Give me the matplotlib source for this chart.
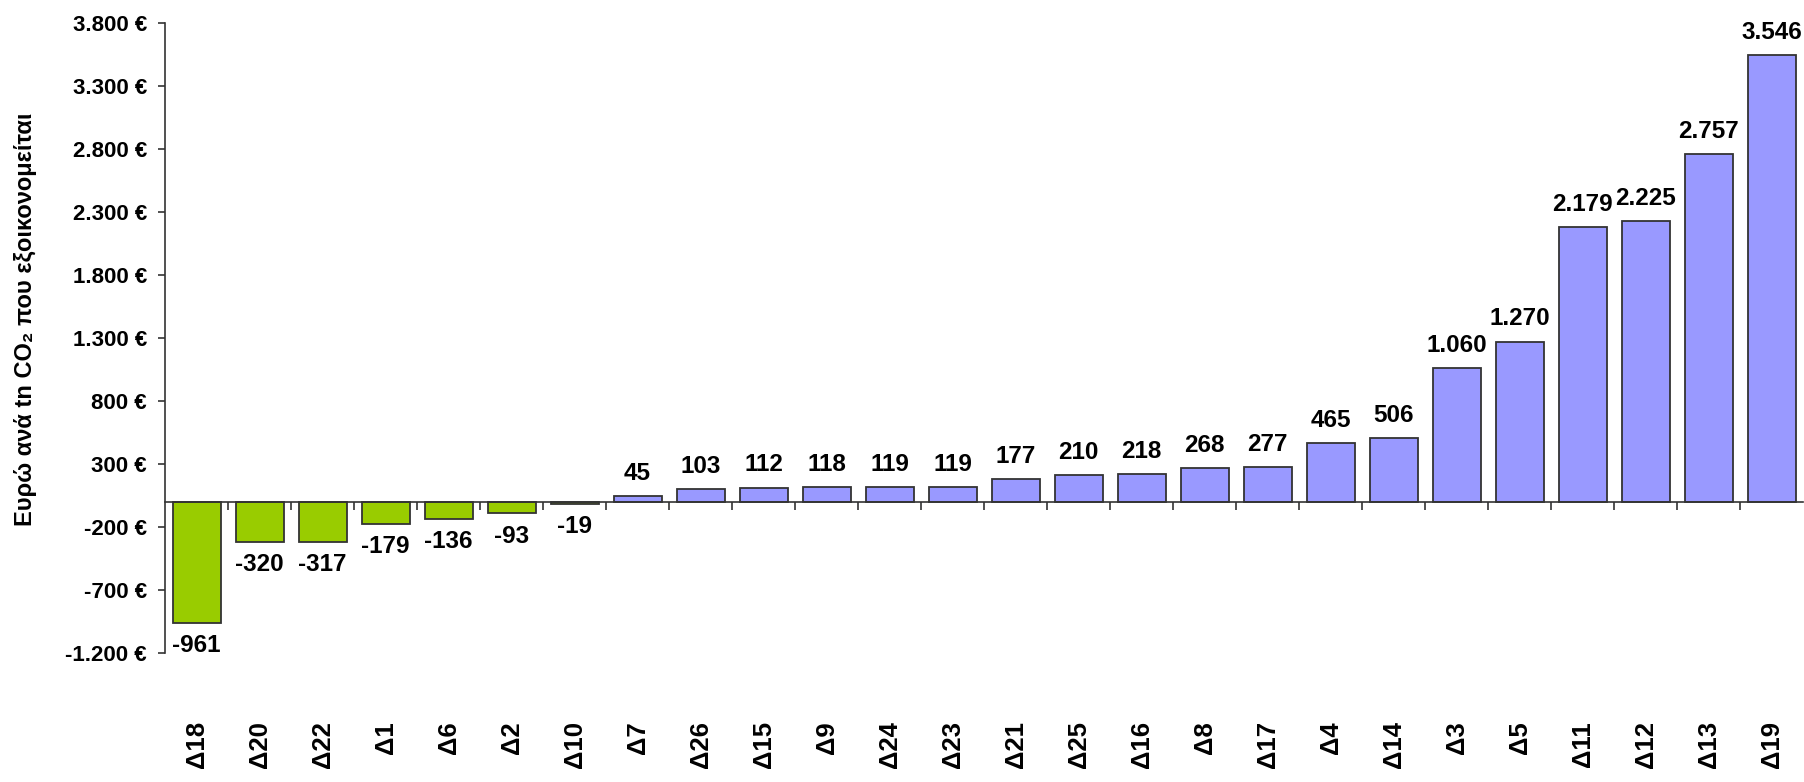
import numpy as np
import matplotlib
matplotlib.use("Agg")
import matplotlib.pyplot as plt
from matplotlib.ticker import FixedLocator, FuncFormatter

plt.rcParams['font.family'] = ['Liberation Sans', 'DejaVu Sans']
plt.rcParams['font.weight'] = 'bold'

categories = ['Δ18', 'Δ20', 'Δ22', 'Δ1', 'Δ6', 'Δ2', 'Δ10', 'Δ7', 'Δ26', 'Δ15',
              'Δ9', 'Δ24', 'Δ23', 'Δ21', 'Δ25', 'Δ16', 'Δ8', 'Δ17', 'Δ4', 'Δ14',
              'Δ3', 'Δ5', 'Δ11', 'Δ12', 'Δ13', 'Δ19']
values = [-961, -320, -317, -179, -136, -93, -19, 45, 103, 112,
          118, 119, 119, 177, 210, 218, 268, 277, 465, 506,
          1060, 1270, 2179, 2225, 2757, 3546]
y_ticks = list(range(-1200, 3801, 500))
y_label = 'Ευρώ ανά tn CO₂ που εξοικονομείται'


def dot_thousands(v):
    return f"{int(v):,}".replace(',', '.')


fig = plt.figure(figsize=(18.04, 7.82), dpi=100)
ax = fig.add_axes([0.0915, 0.165, 0.908, 0.806])

x = np.arange(len(categories))
colors = ['#99CC00' if v < 0 else '#9999FF' for v in values]
ax.bar(x, values, width=0.76, color=colors, edgecolor='#333333', linewidth=1.3, zorder=2)

for xi, v in zip(x, values):
    ax.annotate(dot_thousands(v), (xi, v), xytext=(0, 8 if v >= 0 else -8),
                textcoords='offset points', ha='center',
                va='bottom' if v >= 0 else 'top', fontsize=17.5, fontweight='bold')

ax.set_xlim(-0.5, len(categories) - 0.5)
ax.set_ylim(-1200, 3800)
ax.set_yticks(y_ticks)
ax.yaxis.set_major_formatter(FuncFormatter(lambda v, p: dot_thousands(v) + ' €'))
ax.tick_params(axis='y', direction='out', length=5, width=1.2, color='#333333',
               pad=8, labelsize=16)

ax.spines['top'].set_visible(False)
ax.spines['right'].set_visible(False)
ax.spines['left'].set_color('#333333')
ax.spines['left'].set_linewidth(1.2)
ax.spines['bottom'].set_position(('data', 0))
ax.spines['bottom'].set_color('#333333')
ax.spines['bottom'].set_linewidth(1.2)
ax.spines['bottom'].set_zorder(3)

ax.set_xticks(x)
ax.set_xticklabels(categories, rotation=90, va='top', ha='center')
ax.xaxis.set_minor_locator(FixedLocator(np.arange(0.5, len(categories) - 0.5, 1)))
ax.tick_params(axis='x', which='major', length=0, pad=158, labelsize=18.5)
ax.tick_params(axis='x', which='minor', direction='out', length=6, width=1.2, color='#333333')

ax.set_ylabel(y_label, fontsize=17, fontweight='bold')
ax.yaxis.set_label_coords(-0.078, 0.53)

fig.savefig('out.png', dpi=100)
